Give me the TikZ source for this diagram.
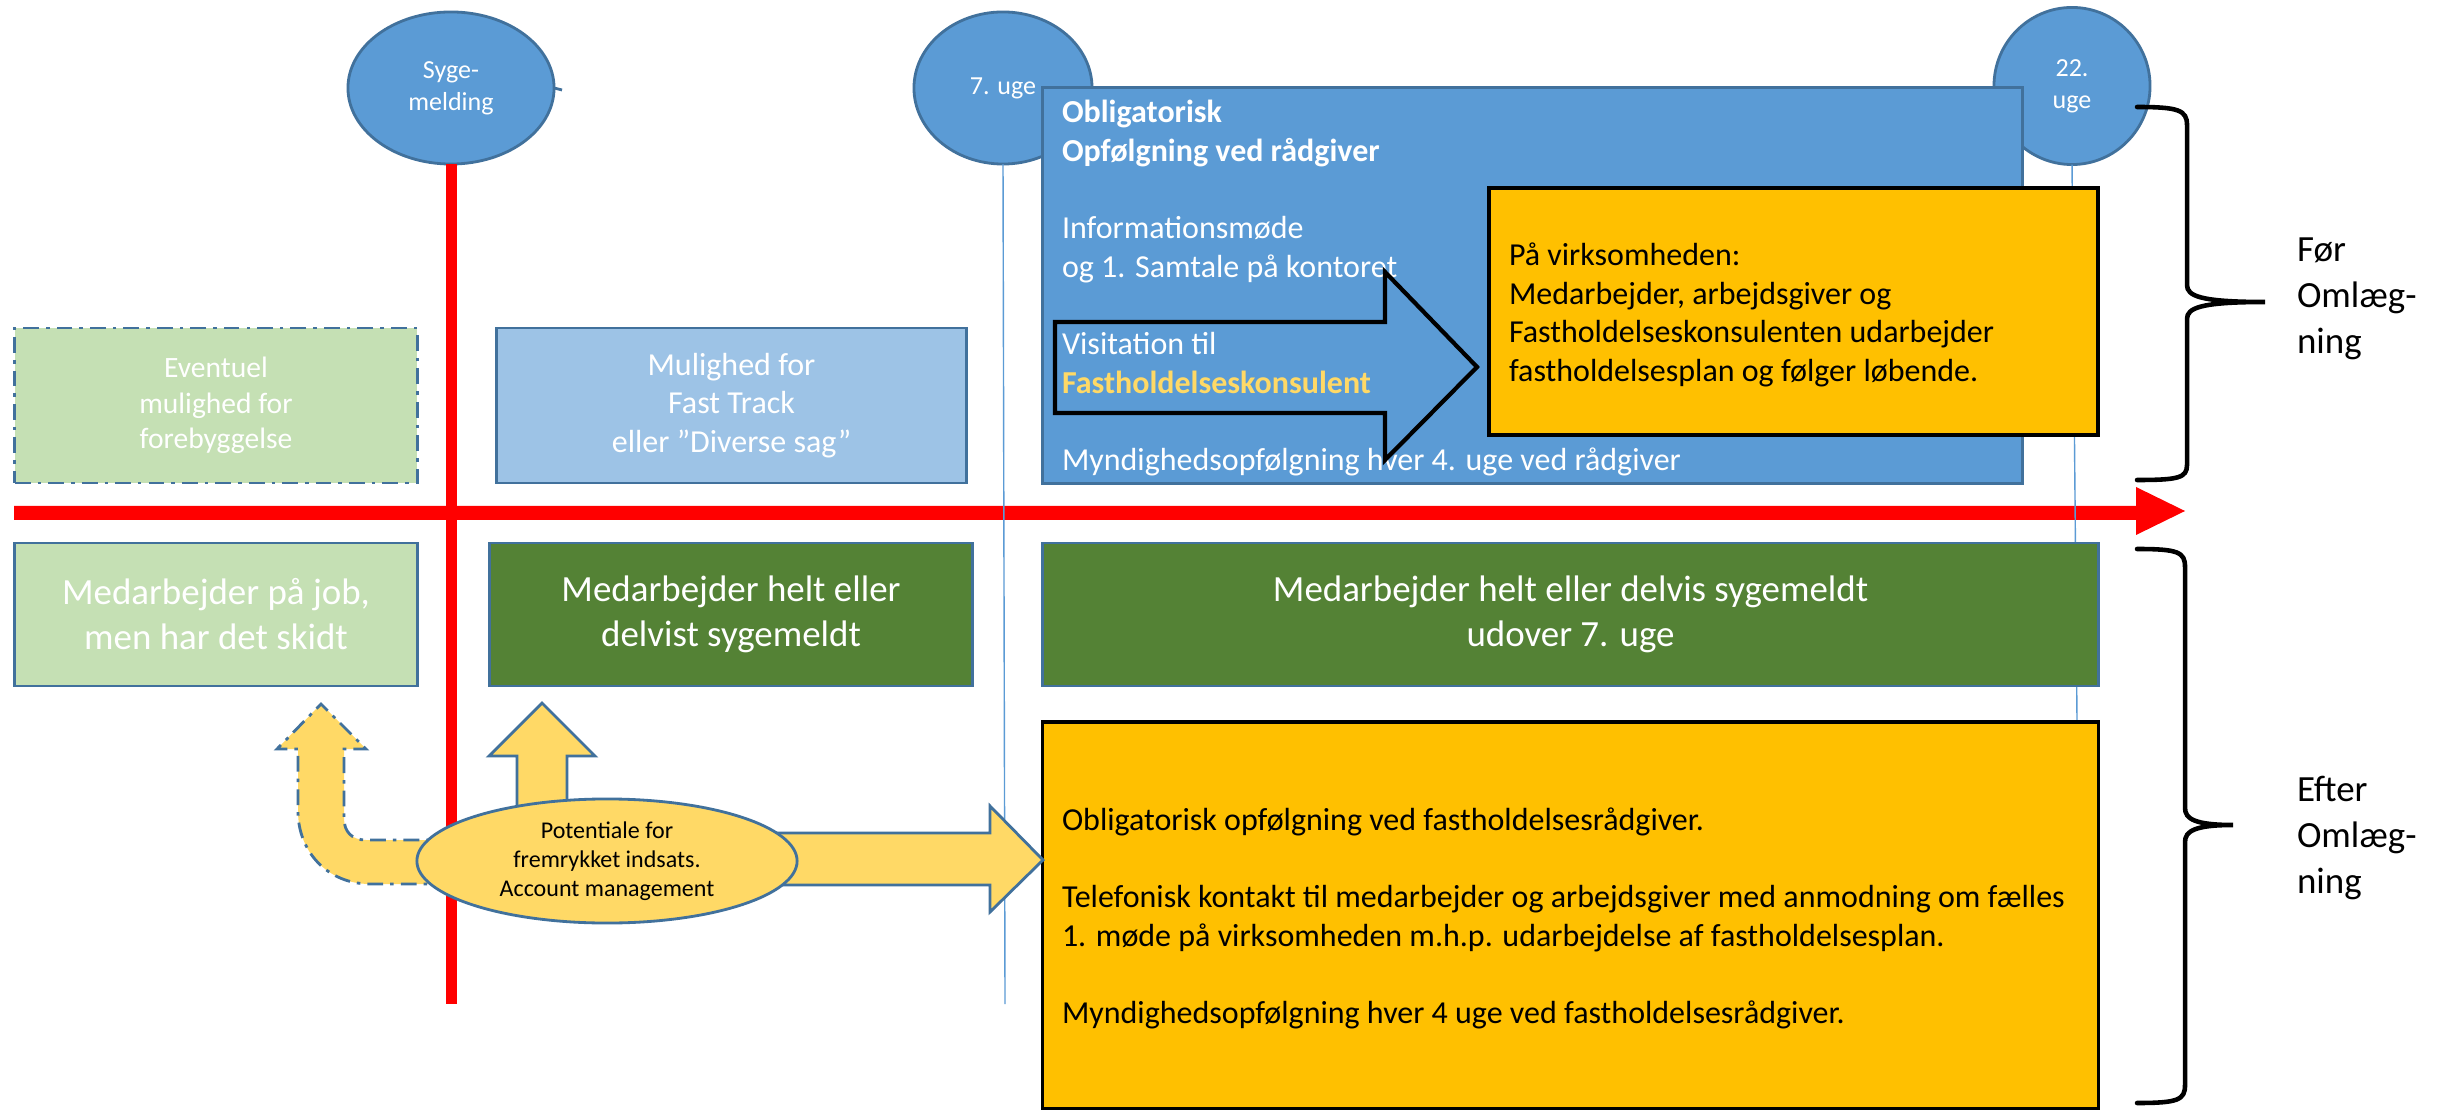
\documentclass[tikz,border=0pt]{standalone}
\usepackage{fontspec}
\setmainfont{Carlito}
\usetikzlibrary{shapes.geometric}
\definecolor{boxblue}{HTML}{5B9BD5}
\definecolor{edgeblue}{HTML}{41719C}
\definecolor{palegreen}{HTML}{C5E0B4}
\definecolor{darkgreen}{HTML}{548235}
\definecolor{paleblue}{HTML}{9DC3E6}
\definecolor{amber}{HTML}{FFC000}
\definecolor{lightamber}{HTML}{FFD966}
\definecolor{timeline}{HTML}{FF0000}
\begin{document}
\begin{tikzpicture}[x=0.01cm,y=-0.01cm,
  every node/.style={inner sep=0pt, outer sep=0pt},
  fmain/.style={font=\fontsize{9.1pt}{11pt}\selectfont},
  fbig/.style={font=\fontsize{10.5pt}{12.8pt}\selectfont},
  fsmall/.style={font=\fontsize{6.83pt}{8.25pt}\selectfont},
  fcirc/.style={font=\fontsize{7.4pt}{9.1pt}\selectfont},
  fev/.style={font=\fontsize{8.4pt}{10.1pt}\selectfont},
  fside/.style={font=\fontsize{10.5pt}{13pt}\selectfont},
  milestone/.style={ellipse, draw=edgeblue, fill=boxblue, line width=0.8pt,
    text=white, fcirc, align=center},
  panel/.style={rectangle, draw=edgeblue, line width=0.8pt},
  notebox/.style={rectangle, draw=black, fill=amber, line width=1pt},
  thinrule/.style={draw=boxblue, line width=0.4pt},
  fatarrow/.style={fill=lightamber, draw=edgeblue, line width=0.8pt, line join=miter},
  bracepath/.style={draw=black, line width=1.3pt, line cap=round}
]
% canvas
\fill[white] (0,0) rectangle (2437,1110);
\useasboundingbox (0,0) rectangle (2437,1110);

% milestones on the time line
\node[milestone, minimum width=2.06cm, minimum height=1.52cm] (sygem) at (451,88) {Syge-\\melding};
\node[milestone, minimum width=1.78cm, minimum height=1.52cm] (uge7) at (1003,88) {7. uge};
\node[milestone, minimum width=1.56cm, minimum height=1.57cm] (uge22) at (2072,86) {22.\\uge};
\coordinate (stub) at (562,90);
\draw[edgeblue, line width=0.8pt] (sygem.east) -- (stub);

% red time line and the sick-report marker
\coordinate (sygemend) at (451,1004);
\draw[timeline, line width=3.13pt] (sygem.south) -- (sygemend);
\fill[timeline] (14,506) -- (2136,506) -- (2136,487) -- (2185,511)
  -- (2136,535) -- (2136,520) -- (14,520) -- cycle;

% week markers
\coordinate (uge7end) at (1005,1004);
\coordinate (uge22end) at (2077,722);
\draw[thinrule] (uge7.south) -- (uge7end);
\draw[thinrule] (uge22.south) -- (uge22end);

% before: mandatory follow-up by adviser
\node[panel, fill=boxblue, minimum width=9.79cm, minimum height=3.95cm] (oblbox) at (1532.5,285.5) {};
\node[fmain, text=white, align=left, anchor=west] (obltext) at (1062,288)
  {\textbf{Obligatorisk}\\
   \textbf{Opfølgning ved rådgiver}\\[11pt]
   Informationsmøde\\
   og 1. Samtale på kontoret\\[11pt]
   Visitation til\\
   \textbf{\textcolor{lightamber}{Fastholdelseskonsulent}}\\[11pt]
   Myndighedsopfølgning hver 4. uge ved rådgiver};
\draw[black, line width=1.2pt, line join=miter] (1055,322) -- (1385,322) -- (1385,272)
  -- (1477,367) -- (1385,460) -- (1385,413) -- (1055,413) -- cycle;

\node[notebox, minimum width=6.09cm, minimum height=2.47cm] (firmbox) at (1793.5,311.5) {};
\node[fmain, align=left, anchor=west] (firmtext) at (1509,315)
  {På virksomheden:\\
   Medarbejder, arbejdsgiver og\\
   Fastholdelseskonsulenten udarbejder\\
   fastholdelsesplan og følger løbende.};

% upper row
\node[panel, fill=palegreen, dash pattern=on 4.5pt off 2pt on 1pt off 2pt,
  minimum width=4.02cm, minimum height=1.55cm, fev, text=white, align=center] (prevbox) at (216,405.5)
  {Eventuel\\mulighed for\\forebyggelse};
\node[panel, fill=paleblue, minimum width=4.69cm, minimum height=1.55cm,
  fmain, text=white, align=center] (fastbox) at (731.5,405.5)
  {Mulighed for\\Fast Track\\eller ”Diverse sag”};

% lower row
\node[panel, fill=palegreen, minimum width=4.02cm, minimum height=1.43cm,
  fbig, text=white, align=center] (jobbox) at (216,614.5)
  {Medarbejder på job,\\men har det skidt};
\node[panel, fill=darkgreen, minimum width=4.82cm, minimum height=1.43cm,
  fbig, text=white, align=center] (sickbox) at (731,614.5)
  {Medarbejder helt eller\\delvist sygemeldt};
\node[panel, fill=darkgreen, minimum width=10.55cm, minimum height=1.43cm,
  fbig, text=white, align=center] (longbox) at (1570.5,614.5)
  {Medarbejder helt eller delvis sygemeldt\\udover 7. uge};

% after: retention adviser follow-up
\node[notebox, minimum width=10.55cm, minimum height=3.87cm] (afterbox) at (1570.5,915.5) {};
\node[fmain, align=left, anchor=west] (aftertext) at (1062,918.5)
  {Obligatorisk opfølgning ved fastholdelsesrådgiver.\\[11pt]
   Telefonisk kontakt til medarbejder og arbejdsgiver med anmodning om fælles\\
   1. møde på virksomheden m.h.p. udarbejdelse af fastholdelsesplan.\\[11pt]
   Myndighedsopfølgning hver 4 uge ved fastholdelsesrådgiver.};

% block arrows out of the account-management hub
\draw[fatarrow, dash pattern=on 4.5pt off 2pt on 1pt off 2pt]
  (450,884) -- (370,884) .. controls (328,884) and (298,852) .. (298,811)
  -- (298,749) -- (277,749) -- (321,704) -- (366,749) -- (344,749) -- (344,818)
  .. controls (344,832) and (352,840) .. (366,840) -- (450,840) -- cycle;
\draw[fatarrow] (517,830) -- (517,756) -- (489,756) -- (542,703) -- (595,756)
  -- (567,756) -- (567,830) -- cycle;
\draw[fatarrow] (700,833) -- (990,833) -- (990,806) -- (1043,860) -- (990,912)
  -- (990,885) -- (700,885) -- cycle;

\node[ellipse, draw=edgeblue, fill=lightamber, line width=0.8pt,
  minimum width=3.8cm, minimum height=1.24cm, fsmall, align=center] (hub) at (607,861)
  {Potentiale for\\fremrykket indsats.\\Account management};

% braces with their labels
\draw[bracepath] (2137,107) .. controls (2178,107) and (2187,110) .. (2187,125)
  -- (2187,285) .. controls (2187,296) and (2200,302) .. (2265,302)
  .. controls (2200,302) and (2187,308) .. (2187,319)
  -- (2187,465) .. controls (2187,478) and (2178,480) .. (2137,480);
\draw[bracepath] (2137,549) .. controls (2178,549) and (2185,552) .. (2185,567)
  -- (2185,808) .. controls (2185,819) and (2195,825) .. (2233,825)
  .. controls (2195,825) and (2185,831) .. (2185,842)
  -- (2185,1085) .. controls (2185,1100) and (2178,1103) .. (2137,1103);
\node[fside, align=left, anchor=west] (before) at (2297,299) {Før\\Omlæg-\\ning};
\node[fside, align=left, anchor=west] (after) at (2297,838) {Efter\\Omlæg-\\ning};
\end{tikzpicture}
\end{document}
